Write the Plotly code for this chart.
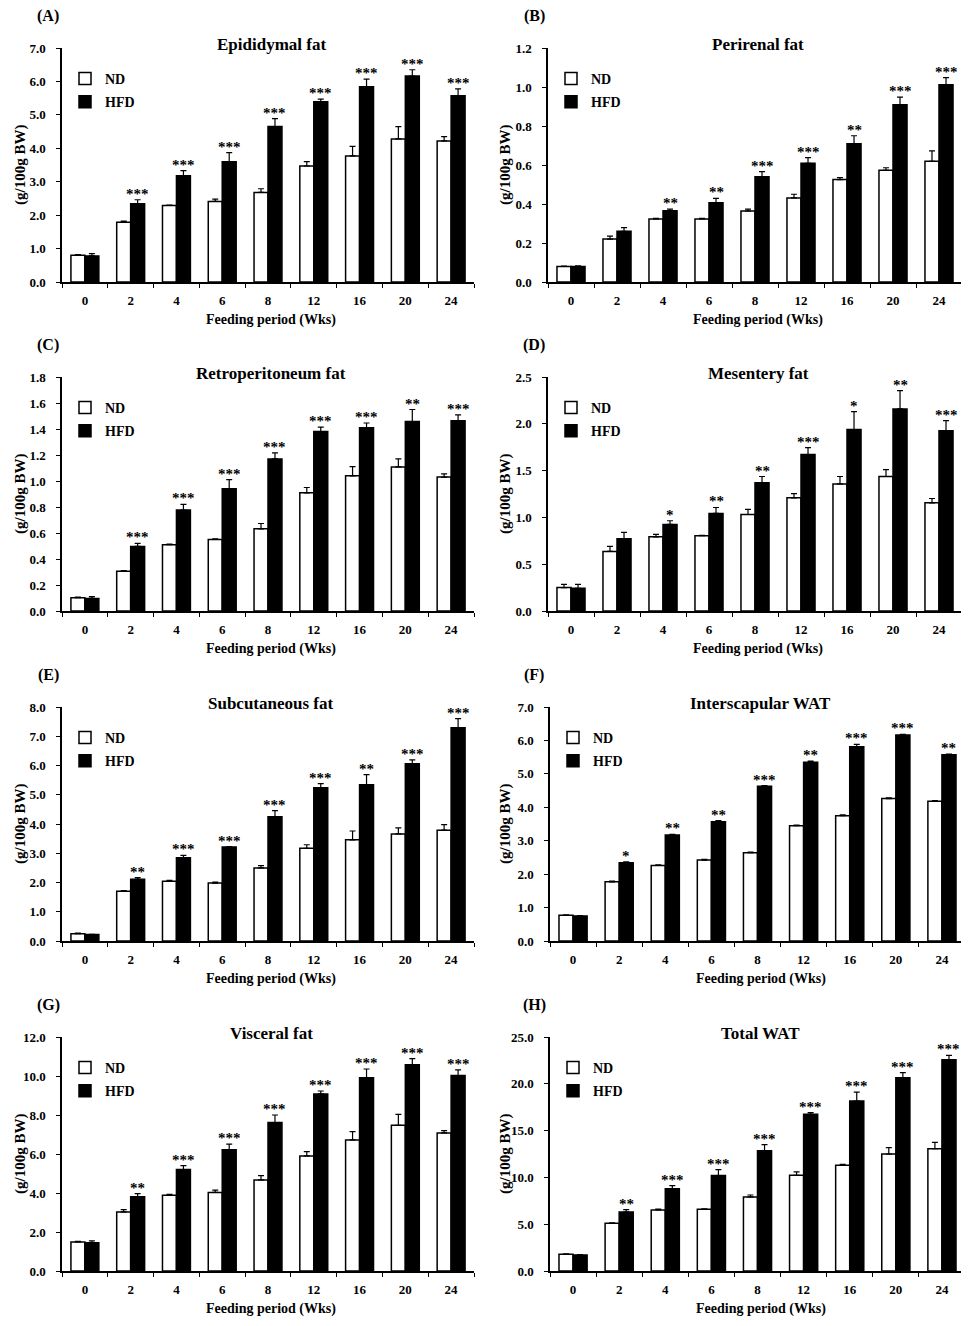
import plotly.graph_objects as go

weeks = ["0", "2", "4", "6", "8", "12", "16", "20", "24"]

# (A) Epididymal fat
epi_nd = [0.80, 1.79, 2.29, 2.41, 2.68, 3.47, 3.77, 4.28, 4.22]
epi_nd_sem = [0.02, 0.03, 0.01, 0.07, 0.11, 0.13, 0.29, 0.37, 0.13]
epi_hfd = [0.78, 2.34, 3.18, 3.60, 4.65, 5.39, 5.84, 6.16, 5.57]
epi_hfd_sem = [0.07, 0.12, 0.15, 0.27, 0.24, 0.08, 0.23, 0.19, 0.21]
epi_sig = ["", "***", "***", "***", "***", "***", "***", "***", "***"]

# (B) Perirenal fat
peri_nd = [0.080, 0.220, 0.323, 0.323, 0.364, 0.431, 0.525, 0.573, 0.619]
peri_nd_sem = [0.002, 0.015, 0.003, 0.003, 0.010, 0.019, 0.010, 0.013, 0.053]
peri_hfd = [0.080, 0.260, 0.366, 0.407, 0.540, 0.609, 0.709, 0.909, 1.012]
peri_hfd_sem = [0.003, 0.019, 0.008, 0.022, 0.026, 0.029, 0.041, 0.039, 0.036]
peri_sig = ["", "", "**", "**", "***", "***", "**", "***", "***"]

# (C) Retroperitoneum fat
retro_nd = [0.102, 0.305, 0.510, 0.550, 0.632, 0.909, 1.040, 1.108, 1.030]
retro_nd_sem = [0.005, 0.005, 0.005, 0.005, 0.041, 0.041, 0.070, 0.062, 0.025]
retro_hfd = [0.097, 0.497, 0.776, 0.940, 1.170, 1.380, 1.410, 1.457, 1.464]
retro_hfd_sem = [0.013, 0.023, 0.044, 0.070, 0.046, 0.035, 0.036, 0.093, 0.044]
retro_sig = ["", "***", "***", "***", "***", "***", "***", "**", "***"]

# (D) Mesentery fat
mes_nd = [0.250, 0.637, 0.793, 0.804, 1.031, 1.209, 1.358, 1.437, 1.156]
mes_nd_sem = [0.034, 0.053, 0.025, 0.005, 0.054, 0.046, 0.079, 0.074, 0.046]
mes_hfd = [0.242, 0.772, 0.925, 1.042, 1.369, 1.671, 1.938, 2.159, 1.927]
mes_hfd_sem = [0.042, 0.067, 0.039, 0.064, 0.068, 0.075, 0.192, 0.195, 0.107]
mes_sig = ["", "", "*", "**", "**", "***", "*", "**", "***"]

# (E) Subcutaneous fat
sub_nd = [0.25, 1.70, 2.04, 1.98, 2.50, 3.17, 3.46, 3.66, 3.79]
sub_nd_sem = [0.02, 0.02, 0.03, 0.03, 0.08, 0.12, 0.30, 0.21, 0.19]
sub_hfd = [0.22, 2.11, 2.85, 3.21, 4.25, 5.24, 5.34, 6.06, 7.29]
sub_hfd_sem = [0.01, 0.06, 0.08, 0.02, 0.21, 0.14, 0.35, 0.13, 0.31]
sub_sig = ["", "**", "***", "***", "***", "***", "**", "***", "***"]

# (F) Interscapular WAT
inter_nd = [0.77, 1.77, 2.26, 2.42, 2.64, 3.45, 3.75, 4.26, 4.18]
inter_nd_sem = [0.01, 0.02, 0.02, 0.02, 0.02, 0.02, 0.02, 0.02, 0.02]
inter_hfd = [0.75, 2.34, 3.17, 3.57, 4.63, 5.35, 5.81, 6.16, 5.57]
inter_hfd_sem = [0.01, 0.03, 0.02, 0.03, 0.02, 0.03, 0.07, 0.02, 0.02]
inter_sig = ["", "*", "**", "**", "***", "**", "***", "***", "**"]

# (G) Visceral fat
visc_nd = [1.49, 3.03, 3.88, 4.03, 4.67, 5.90, 6.72, 7.47, 7.08]
visc_nd_sem = [0.03, 0.12, 0.05, 0.12, 0.22, 0.22, 0.43, 0.56, 0.12]
visc_hfd = [1.45, 3.81, 5.20, 6.22, 7.61, 9.08, 9.91, 10.58, 10.02]
visc_hfd_sem = [0.09, 0.16, 0.20, 0.29, 0.39, 0.15, 0.45, 0.31, 0.29]
visc_sig = ["", "**", "***", "***", "***", "***", "***", "***", "***"]

# (H) Total WAT
tot_nd = [1.78, 5.09, 6.52, 6.59, 7.91, 10.22, 11.29, 12.50, 13.07]
tot_nd_sem = [0.05, 0.05, 0.10, 0.05, 0.21, 0.36, 0.11, 0.68, 0.68]
tot_hfd = [1.71, 6.30, 8.80, 10.19, 12.86, 16.74, 18.16, 20.65, 22.58]
tot_hfd_sem = [0.05, 0.25, 0.32, 0.64, 0.64, 0.18, 0.96, 0.54, 0.46]
tot_sig = ["", "**", "***", "***", "***", "***", "***", "***", "***"]

panel_letters = ["(A)", "(B)", "(C)", "(D)", "(E)", "(F)", "(G)", "(H)"]
panel_titles = ["Epididymal fat", "Perirenal fat", "Retroperitoneum fat", "Mesentery fat",
                "Subcutaneous fat", "Interscapular WAT", "Visceral fat", "Total WAT"]
y_max = [7.0, 1.2, 1.8, 2.5, 8.0, 7.0, 12.0, 25.0]
y_step = [1.0, 0.2, 0.2, 0.5, 1.0, 1.0, 2.0, 5.0]
y_title = "(g/100g BW)"
x_title = "Feeding period (Wks)"

series = [
    (epi_nd, epi_nd_sem, epi_hfd, epi_hfd_sem, epi_sig),
    (peri_nd, peri_nd_sem, peri_hfd, peri_hfd_sem, peri_sig),
    (retro_nd, retro_nd_sem, retro_hfd, retro_hfd_sem, retro_sig),
    (mes_nd, mes_nd_sem, mes_hfd, mes_hfd_sem, mes_sig),
    (sub_nd, sub_nd_sem, sub_hfd, sub_hfd_sem, sub_sig),
    (inter_nd, inter_nd_sem, inter_hfd, inter_hfd_sem, inter_sig),
    (visc_nd, visc_nd_sem, visc_hfd, visc_hfd_sem, visc_sig),
    (tot_nd, tot_nd_sem, tot_hfd, tot_hfd_sem, tot_sig),
]

# ---- layout geometry (screen pixels) ----
W, H = 969, 1326
PAGE_OFFSET = 8  # default body margin of the html page
boxes = [  # x0, x1, ytop, ybottom
    (62, 474, 48, 282), (548, 962, 48, 282),
    (62, 474, 377, 611), (548, 962, 377, 611),
    (62, 474, 707, 941), (550, 965, 707, 941),
    (62, 474, 1037, 1271), (550, 965, 1037, 1271),
]
BARGAP = 0.39
FONT = "Liberation Serif"


def fx(px):
    return (px - PAGE_OFFSET) / W


def fy(py):
    return 1 - (py - PAGE_OFFSET) / H


fig = go.Figure()
annotations = []
layout_upd = {}

for k in range(8):
    n = k + 1
    sfx = "" if n == 1 else str(n)
    xa, ya, lg = "x" + sfx, "y" + sfx, "legend" + sfx
    nd, nd_sem, hfd, hfd_sem, sig = series[k]
    x0, x1, yt, yb = boxes[k]

    fig.add_trace(go.Bar(
        x=weeks, y=nd, name="ND", xaxis=xa, yaxis=ya, legend=lg, legendgroup=f"nd{n}",
        marker=dict(color="white", line=dict(color="black", width=1.5)),
        error_y=dict(type="data", symmetric=False, array=nd_sem, arrayminus=[0] * len(nd),
                     color="black", thickness=1.2, width=3),
    ))
    fig.add_trace(go.Bar(
        x=weeks, y=hfd, name="HFD", xaxis=xa, yaxis=ya, legend=lg, legendgroup=f"hfd{n}",
        marker=dict(color="black", line=dict(color="black", width=1.5)),
        error_y=dict(type="data", symmetric=False, array=hfd_sem, arrayminus=[0] * len(hfd),
                     color="black", thickness=1.2, width=3),
    ))

    layout_upd["xaxis" + sfx] = dict(
        domain=[fx(x0), fx(x1)], anchor=ya, type="category", categoryorder="array",
        categoryarray=weeks, range=[-0.5, len(weeks) - 0.5], showline=True, linecolor="black",
        linewidth=1.5, ticks="outside", tickson="boundaries", ticklen=4, tickwidth=1.2,
        tickcolor="black", showgrid=False, zeroline=False, ticklabelstandoff=6,
        automargin=False,
        tickfont=dict(family=FONT, size=13, color="black", weight="bold"),
    )
    layout_upd["yaxis" + sfx] = dict(
        domain=[fy(yb), fy(yt)], anchor=xa, range=[0, y_max[k]], dtick=y_step[k], tick0=0,
        tickformat=".1f", showline=True, linecolor="black", linewidth=1.5, ticks="outside",
        ticklen=4, tickwidth=1.2, tickcolor="black", showgrid=False, zeroline=False,
        ticklabelstandoff=8, automargin=False,
        tickfont=dict(family=FONT, size=13, color="black", weight="bold"),
    )
    layout_upd[lg] = dict(
        x=fx(x0 + 3), y=fy(yt + 15), xanchor="left", yanchor="top",
        bgcolor="rgba(0,0,0,0)", borderwidth=0, itemwidth=30, traceorder="grouped",
        tracegroupgap=2, font=dict(family=FONT, size=14, color="black", weight="bold"),
        itemclick=False, itemdoubleclick=False,
    )

    cat_w = (x1 - x0) / len(weeks)
    shift = cat_w * (1 - BARGAP) / 4
    for i, s in enumerate(sig):
        if s:
            annotations.append(dict(
                xref=xa, yref=ya, x=i, y=hfd[i] + hfd_sem[i], xshift=shift, yshift=-4,
                yanchor="bottom", text=s, showarrow=False,
                font=dict(family=FONT, size=15, color="black", weight="bold"),
            ))

    xc = (x0 + x1) / 2 + 3
    left_col = (k % 2 == 0)
    annotations.append(dict(
        xref="paper", yref="paper", x=fx(48 if left_col else 534), y=fy(yt - 32),
        text=panel_letters[k], showarrow=False, xanchor="center", yanchor="middle",
        font=dict(family=FONT, size=16, color="black", weight="bold"),
    ))
    annotations.append(dict(
        xref="paper", yref="paper", x=fx(xc), y=fy(yt - 4),
        text=panel_titles[k], showarrow=False, xanchor="center", yanchor="middle",
        font=dict(family=FONT, size=17, color="black", weight="bold"),
    ))
    annotations.append(dict(
        xref="paper", yref="paper", x=fx(xc), y=fy(yb + 38),
        text=x_title, showarrow=False, xanchor="center", yanchor="middle",
        font=dict(family=FONT, size=14, color="black", weight="bold"),
    ))
    annotations.append(dict(
        xref="paper", yref="paper", x=fx(20 if left_col else 505), y=fy((yt + yb) / 2),
        text=y_title, showarrow=False, textangle=-90, xanchor="center", yanchor="middle",
        font=dict(family=FONT, size=15, color="black", weight="bold"),
    ))

fig.update_layout(
    width=W, height=H, margin=dict(l=0, r=0, t=0, b=0, autoexpand=False),
    paper_bgcolor="white", plot_bgcolor="white",
    barmode="group", bargap=BARGAP, bargroupgap=0,
    annotations=annotations, showlegend=True,
    **layout_upd,
)

fig.write_html("out.html")
